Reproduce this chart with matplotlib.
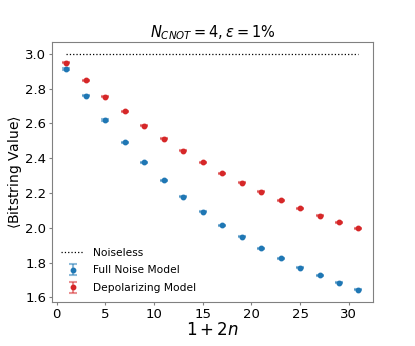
import matplotlib
matplotlib.use("Agg")
import matplotlib.pyplot as plt
import numpy as np

x_vals = [1, 3, 5, 7, 9, 11, 13, 15, 17, 19, 21, 23, 25, 27, 29, 31]
full_noise = [2.912, 2.758, 2.619, 2.491, 2.375, 2.272, 2.179, 2.093,
              2.015, 1.947, 1.882, 1.825, 1.771, 1.726, 1.684, 1.644]
depolarizing = [2.947, 2.846, 2.752, 2.669, 2.587, 2.512, 2.442, 2.375,
                2.314, 2.259, 2.208, 2.158, 2.112, 2.070, 2.032, 1.996]
full_err = [0.003] * len(x_vals)
dep_err = [0.003] * len(x_vals)
noiseless = [3.0, 3.0]
noiseless_x = [1, 31]

fig, ax = plt.subplots(figsize=(4.15, 3.46), dpi=100)
fig.subplots_adjust(left=0.125, right=0.899, top=0.879, bottom=0.127)

ax.plot(noiseless_x, noiseless, color='black', linestyle=':', linewidth=0.9, label='Noiseless')
ax.errorbar(x_vals, full_noise, yerr=full_err, fmt='o', color='tab:blue', markersize=3.2,
            ecolor=(0.12, 0.47, 0.71, 0.5), capsize=3, capthick=1.5, elinewidth=1.5,
            label='Full Noise Model')
ax.errorbar(x_vals, depolarizing, yerr=dep_err, fmt='o', color='tab:red', markersize=3.2,
            ecolor=(0.84, 0.15, 0.16, 0.5), capsize=3, capthick=1.5, elinewidth=1.5,
            label='Depolarizing Model')

ax.set_title(r'$N_{CNOT} = 4, \epsilon = 1\%$', fontsize=10.5, pad=2)
ax.set_xlabel(r'$1+2n$', fontsize=12, labelpad=0)
ax.set_ylabel(r'$\langle$Bitstring Value$\rangle$', fontsize=10, labelpad=1)
ax.tick_params(labelsize=9.5, length=2.5, pad=1.5, color='gray')
ax.set_xticks([0, 5, 10, 15, 20, 25, 30])
ax.set_yticks([1.6, 1.8, 2.0, 2.2, 2.4, 2.6, 2.8, 3.0])
for s in ax.spines.values():
    s.set_color('gray')
ax.legend(loc='lower left', frameon=False, fontsize=7.7, borderaxespad=0.45,
          handlelength=2.2, labelspacing=0.7)

fig.savefig('out.png', dpi=100)
